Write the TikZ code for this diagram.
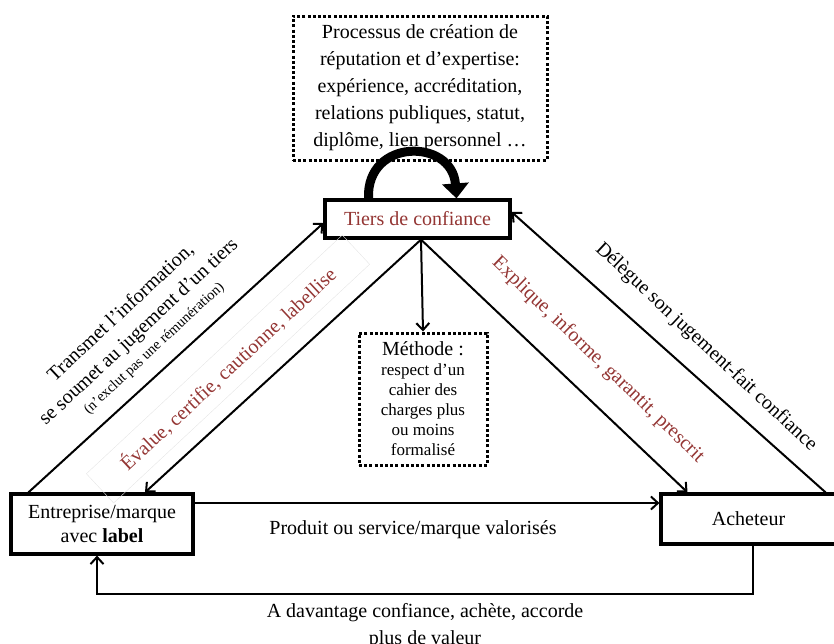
\documentclass[tikz,border=0pt]{standalone}
\usepackage{fontspec}
\setmainfont{Liberation Serif}
\usetikzlibrary{arrows.meta,calc,shadows}
\definecolor{tred}{RGB}{148,54,52}
\begin{document}
\begin{tikzpicture}[x=1pt,y=-1pt,
  solidbox/.style={draw, line width=3.2pt, fill=white, inner sep=0pt, align=center},
  dotbox/.style={draw, line width=3pt, dash pattern=on 3pt off 2.2pt, inner sep=0pt, align=center},
  conn/.style={line width=2pt, -{Straight Barb[length=7pt,width=13pt]}},
  txt/.style={font=\fontsize{20}{27}\selectfont},
  sml/.style={font=\fontsize{17}{20}\selectfont}
]
\useasboundingbox (0,0) rectangle (834,643);

% boxes
\node[dotbox, txt, minimum width=254pt, minimum height=144pt] (proc) at (420,88)
  {Processus de création de\\réputation et d’expertise:\\expérience, accréditation,\\relations publiques, statut,\\diplôme, lien personnel …};
\node[solidbox, txt, text=tred, minimum width=185pt, minimum height=38pt,
  drop shadow={shadow xshift=2pt, shadow yshift=-2pt, fill=black!25}] (tiers) at (417.5,219) {Tiers de confiance};
\node[dotbox, sml, minimum width=128pt, minimum height=132pt] (meth) at (423,399)
  {{\fontsize{20}{20}\selectfont Méthode :}\\respect d’un\\cahier des\\charges plus\\ou moins\\formalisé};
\node[solidbox, font=\fontsize{20}{24}\selectfont, minimum width=182pt, minimum height=60pt] (ent) at (102,524)
  {Entreprise/marque\\avec \textbf{label}};
\node[solidbox, txt, minimum width=175pt, minimum height=50pt] (ach) at (748.5,519) {Acheteur};

% curved thick arrow
\draw[line width=9pt, -{Triangle[length=15pt,width=26pt]}]
  ($(tiers.north)+(-49,0)$) .. controls (366,138) and (452,138) .. ($(tiers.north)+(39,0)$);

% connectors
\draw[conn] ($(ent.north west)+(19,0)$) -- ($(tiers.west)+(0,4)$);
\draw[conn] ($(tiers.south)+(3.5,0)$) -- ($(ent.north)+(43,0)$);
\draw[conn] ($(tiers.south)+(3.5,0)$) -- (meth.north);
\draw[conn] ($(tiers.south)+(3.5,0)$) -- ($(ach.north)+(-61,0)$);
\draw[conn] ($(ach.north east)+(-12,0)$) -- ($(tiers.east)+(0,-7)$);
\draw[conn] ($(ent.east)+(0,-21)$) coordinate (h1) -- (h1 -| ach.west);
\draw[conn] ($(ach.south)+(4.5,0)$) -- ++(0,48) -| ($(ent.south)+(-5,0)$);

% labels
\node[rotate=43, align=center, font=\fontsize{20}{26}\selectfont] (lblA) at (137,330)
  {Transmet l’information,\\se soumet au jugement d’un tiers\\[-5pt]{\fontsize{14.5}{16}\selectfont (n’exclut pas une rémunération)}};
\node[rotate=43, text=tred, font=\fontsize{20}{24}\selectfont, draw=black!10, line width=0.4pt,
  minimum width=350pt, minimum height=40pt] (lblB) at (228,369) {Évalue, certifie, cautionne, labellise};
\node[rotate=-44, text=tred, font=\fontsize{20}{24}\selectfont] (lblC) at (598,360) {Explique, informe, garantit, prescrit};
\node[rotate=-43, font=\fontsize{20}{24}\selectfont] (lblD) at (706,347) {Délègue son jugement-fait confiance};
\node[font=\fontsize{20}{24}\selectfont] (prod) at (413,530) {Produit ou service/marque valorisés};
\node[txt, align=center] (dav) at (425,626) {A davantage confiance, achète, accorde\\plus de valeur};
\end{tikzpicture}
\end{document}
